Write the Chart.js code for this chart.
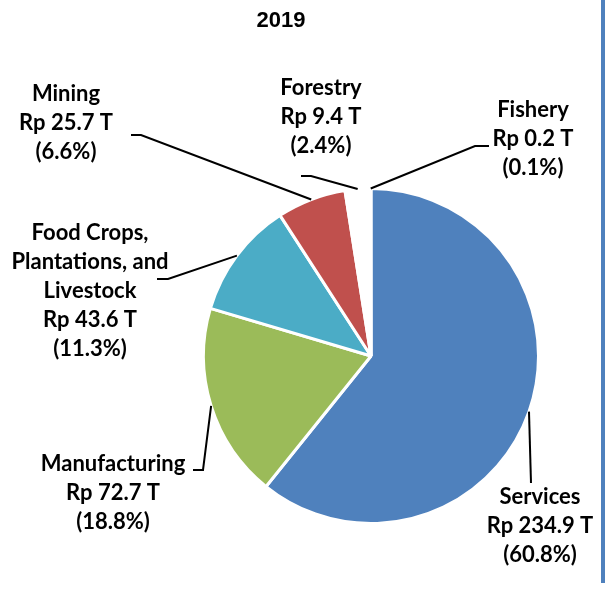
<!DOCTYPE html>
<html>
<head>
<meta charset="utf-8">
<script src="https://cdn.jsdelivr.net/npm/chart.js@4.4.1/dist/chart.umd.min.js"></script>
<style>
  html, body { margin: 0; padding: 0; background: #ffffff; }
  #wrap { position: relative; width: 606px; height: 590px; }
  canvas { display: block; }
</style>
</head>
<body>
<div id="wrap"><canvas id="c" width="606" height="590"></canvas></div>
<script>
// ---- data ----
const chartTitle = '2019';
const categories = ['Services', 'Manufacturing', 'Food Crops, Plantations, and Livestock', 'Mining', 'Forestry', 'Fishery'];
const categoryLines = [['Services'], ['Manufacturing'], ['Food Crops,', 'Plantations, and', 'Livestock'], ['Mining'], ['Forestry'], ['Fishery']];
const valuesTrillionRp = [234.9, 72.7, 43.6, 25.7, 9.4, 0.2];
const sliceColors = ['#4F81BD', '#9BBB59', '#4BACC6', '#C0504D', '#FFFFFF', '#F79646'];

const total = valuesTrillionRp.reduce((a, b) => a + b, 0);

// ---- label layout (style) ----
const LABEL_FONT = 'bold 22px Lato, "DejaVu Sans", sans-serif';
const LINE_H = 29;
const labelLayout = [
  { cx: 540, top: 497, path: [[531, 483]] },                    // Services
  { cx: 113, top: 464, path: [[203, 470], [193, 470]] },        // Manufacturing
  { cx: 90,  top: 233, path: [[168, 279], [157, 279]] },        // Food crops
  { cx: 66,  top: 94,  path: [[141, 135], [131, 135]] },        // Mining
  { cx: 321, top: 88,  path: [[311, 176], [301, 176]] },        // Forestry
  { cx: 533, top: 110, path: [[475, 146], [489, 146]] }         // Fishery
];

const labelPlugin = {
  id: 'sliceLabels',
  afterDatasetsDraw(chart) {
    const ctx = chart.ctx;
    const meta = chart.getDatasetMeta(0);
    ctx.save();
    // title
    ctx.fillStyle = '#000';
    ctx.font = 'bold 22px "Liberation Sans", Arial, sans-serif';
    ctx.textAlign = 'center';
    ctx.textBaseline = 'middle';
    ctx.fillText(chartTitle, 281, 21);

    // right frame line
    ctx.fillStyle = '#4F81BD';
    ctx.fillRect(601, 0, 4, 583);

    meta.data.forEach((arc, i) => {
      const p = arc.getProps(['x', 'y', 'startAngle', 'endAngle', 'outerRadius'], true);
      const mid = (p.startAngle + p.endAngle) / 2;
      const r = p.outerRadius;
      const sx = p.x + Math.cos(mid) * r;
      const sy = p.y + Math.sin(mid) * r;
      const L = labelLayout[i];
      ctx.strokeStyle = '#000';
      ctx.lineWidth = 2;
      ctx.beginPath();
      ctx.moveTo(sx, sy);
      L.path.forEach(pt => ctx.lineTo(pt[0], pt[1]));
      ctx.stroke();

      const pct = (valuesTrillionRp[i] / total * 100).toFixed(1);
      const lines = categoryLines[i].concat(['Rp ' + valuesTrillionRp[i] + ' T', '(' + pct + '%)']);
      ctx.fillStyle = '#000';
      ctx.font = LABEL_FONT;
      ctx.textAlign = 'center';
      ctx.textBaseline = 'middle';
      lines.forEach((t, k) => ctx.fillText(t, L.cx, L.top + k * LINE_H));
    });
    ctx.restore();
  }
};

new Chart(document.getElementById('c'), {
  type: 'pie',
  data: {
    labels: categories,
    datasets: [{
      data: valuesTrillionRp,
      backgroundColor: sliceColors,
      borderColor: '#FFFFFF',
      borderWidth: 3
    }]
  },
  options: {
    responsive: false,
    animation: false,
    layout: { padding: { left: 202, right: 66, top: 187, bottom: 65 } },
    plugins: {
      legend: { display: false },
      tooltip: { enabled: false },
      title: { display: false }
    }
  },
  plugins: [labelPlugin]
});
</script>
</body>
</html>
